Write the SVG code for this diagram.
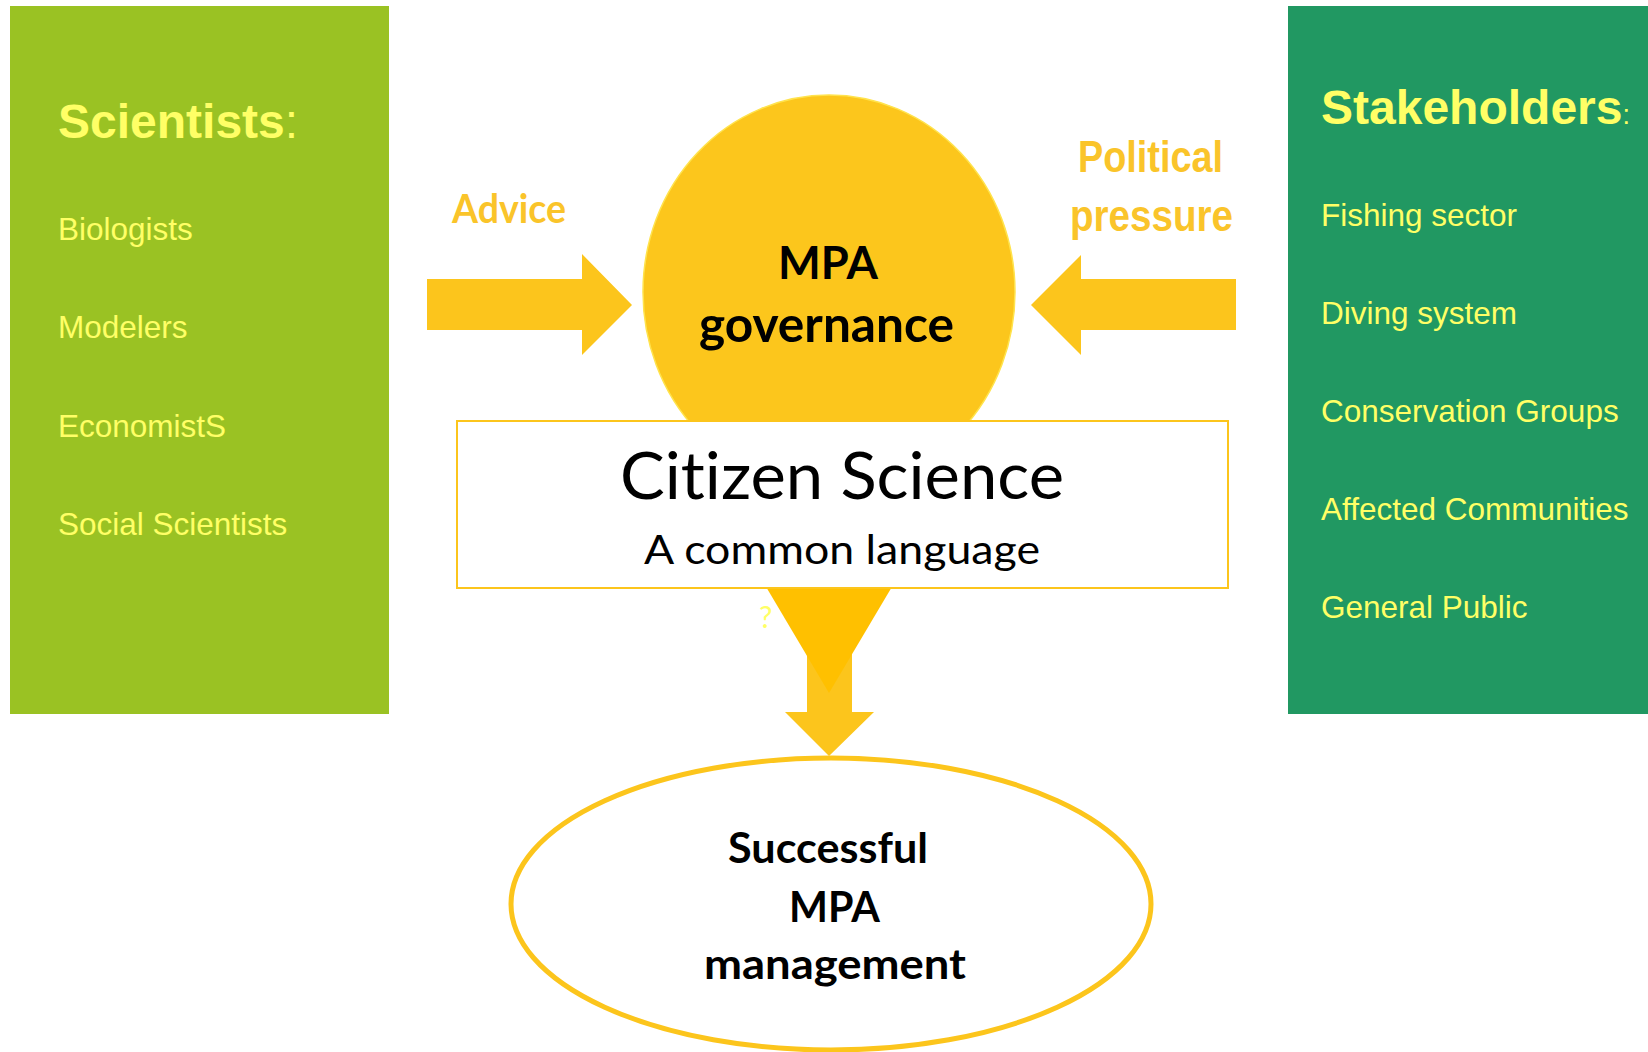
<svg xmlns="http://www.w3.org/2000/svg" width="1648" height="1052" viewBox="0 0 1648 1052">
<style>
text{font-variant-ligatures:none}
.side{font-family:"Liberation Sans",Arial,sans-serif;fill:#FFFF66;font-size:31.5px}
.head{font-family:"Liberation Sans",Arial,sans-serif;fill:#FFFF66;font-weight:bold}
.lbl{fill:#FAC42A;font-weight:bold}
.cal{font-family:Lato,"Open Sans",sans-serif}
.blk{fill:#000}
.arrow{fill:#FCC51C}
</style>
<rect width="1648" height="1052" fill="#FFFFFF"/>

<g id="scientists">
<rect x="10" y="6" width="379" height="708" fill="#9AC223"/>
<text class="head" x="58" y="138" font-size="48">Scientists<tspan font-weight="normal">:</tspan></text>
<text class="side" x="58" y="240">Biologists</text>
<text class="side" x="58" y="338">Modelers</text>
<text class="side" x="58" y="437">EconomistS</text>
<text class="side" x="58" y="535">Social Scientists</text>
</g>

<g id="stakeholders">
<rect x="1288" y="6" width="360" height="708" fill="#219862"/>
<text class="head" x="1321" y="124" font-size="48">Stakeholders<tspan font-weight="normal" font-size="27">:</tspan></text>
<text class="side" x="1321" y="226">Fishing sector</text>
<text class="side" x="1321" y="324">Diving system</text>
<text class="side" x="1321" y="422">Conservation Groups</text>
<text class="side" x="1321" y="520">Affected Communities</text>
<text class="side" x="1321" y="618">General Public</text>
</g>

<g id="connectors">
<polygon class="arrow" points="427,279 582,279 582,254 632,305 582,355 582,330 427,330"/>
<polygon class="arrow" points="1236,279 1081,279 1081,255 1031,305 1081,355 1081,330 1236,330"/>
<polygon class="arrow" points="807,640 852,640 852,712 874,712 829,756 785,712 807,712"/>
</g>

<g id="advice-label">
<text class="cal lbl" x="452" y="223" font-size="40" textLength="114" lengthAdjust="spacingAndGlyphs">Advice</text>
</g>

<g id="political-label">
<text class="lbl" font-family="Liberation Sans, Arial, sans-serif" x="1078" y="172" font-size="44" textLength="145" lengthAdjust="spacingAndGlyphs">Political</text>
<text class="lbl" font-family="Liberation Sans, Arial, sans-serif" x="1070" y="231" font-size="44" textLength="163" lengthAdjust="spacingAndGlyphs">pressure</text>
</g>

<g id="mpa-governance">
<ellipse cx="829" cy="292" rx="186" ry="197" fill="#FCC61C" stroke="#FFE34D" stroke-width="1.5"/>
<polygon points="679,440 979,440 829,693" fill="#FFC000"/>
<text class="cal blk" x="778" y="279" font-size="46" font-weight="bold" textLength="100" lengthAdjust="spacingAndGlyphs">MPA</text>
<text class="cal blk" x="699" y="342" font-size="50" font-weight="bold" textLength="255" lengthAdjust="spacingAndGlyphs">governance</text>
</g>

<g id="citizen-science">
<rect x="457" y="421" width="771" height="167" fill="#FFFFFF" stroke="#FCC51C" stroke-width="2"/>
<text class="cal blk" x="620" y="499" font-size="65" textLength="444" lengthAdjust="spacingAndGlyphs">Citizen Science</text>
<text class="cal blk" x="644" y="564" font-size="41" textLength="396" lengthAdjust="spacingAndGlyphs">A common language</text>
</g>

<g id="question-mark">
<text class="cal" x="759" y="628" font-size="30" fill="#FFFF66">?</text>
</g>

<g id="successful-mpa">
<ellipse cx="831" cy="904" rx="320" ry="146" fill="#FFFFFF" stroke="#FCC51C" stroke-width="5"/>
<text class="cal blk" x="728" y="863" font-size="42" font-weight="bold" textLength="200" lengthAdjust="spacingAndGlyphs">Successful</text>
<text class="cal blk" x="789" y="922" font-size="42" font-weight="bold" textLength="91" lengthAdjust="spacingAndGlyphs">MPA</text>
<text class="cal blk" x="704" y="979" font-size="42" font-weight="bold" textLength="262" lengthAdjust="spacingAndGlyphs">management</text>
</g>
</svg>
